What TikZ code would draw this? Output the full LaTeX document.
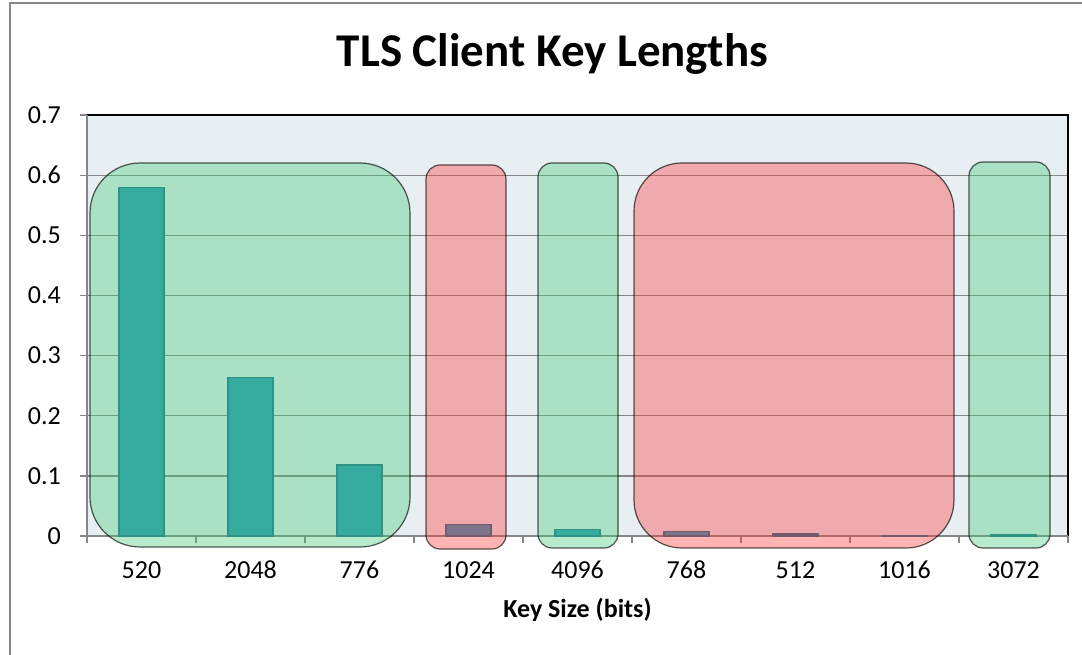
\documentclass[tikz,border=0pt]{standalone}
\usepackage{fontspec}
\setmainfont{Carlito}
\definecolor{framegray}{RGB}{134,134,134}
\definecolor{plotbg}{RGB}{232,239,243}
\definecolor{teal}{RGB}{46,154,186}
\definecolor{tealedge}{RGB}{30,115,140}
\definecolor{grpgreen}{RGB}{68,202,122}
\definecolor{grpred}{RGB}{255,55,55}
\tikzset{
  grid line/.style={draw=framegray, line width=1.3pt},
  axis line/.style={draw=framegray, line width=1.3pt},
  barbox/.style={fill=teal, draw=tealedge, line width=1.2pt},
  goodgroup/.style={fill=grpgreen, fill opacity=0.375, draw=black, draw opacity=0.65, line width=1.2pt},
  badgroup/.style={fill=grpred, fill opacity=0.375, draw=black, draw opacity=0.65, line width=1.2pt},
  ticklabel/.style={font=\fontsize{26}{31}\selectfont, inner sep=0pt},
  axistitle/.style={font=\fontsize{26}{31}\selectfont\bfseries, inner sep=0pt},
  charttitle/.style={font=\fontsize{47}{56}\selectfont\bfseries, inner sep=0pt}
}
\begin{document}
\begin{tikzpicture}[x=1pt,y=-1pt]
\useasboundingbox (0,0) rectangle (1082,655);
\fill[white] (0,0) rectangle (1082,655);
% outer chart border (cut off right and bottom)
\draw[draw=framegray, line width=1.6pt] (10,660) -- (10,3) -- (1090,3);
% plot area
\fill[plotbg] (87,115) rectangle (1068,536);
\foreach \k in {1,...,6} {
  \draw[grid line] (87,{536-\k*60.14}) -- (1068,{536-\k*60.14});
}
\draw[black, line width=1.6pt] (87,115) -- (1068,115) -- (1068,536);
% axes
\draw[axis line] (87,115) -- (87,536) -- (1068,536);
\foreach \k in {0,...,7} {
  \draw[axis line] (80,{536-\k*60.14}) -- (87,{536-\k*60.14});
}
\foreach \i in {0,...,9} {
  \draw[axis line] ({87+109*\i},536) -- ({87+109*\i},543);
}
% bars
\foreach \i/\v in {0/0.58,1/0.263,2/0.118,3/0.019,4/0.011,5/0.008,6/0.0035,7/0.0015,8/0.0018} {
  \draw[barbox] ({87+109*\i+54.5-22.5},536) rectangle ({87+109*\i+54.5+22.5},{536-\v*601.4});
}
% group boxes
\draw[goodgroup, rounded corners=50pt] (90,163) rectangle (410,547);
\draw[badgroup, rounded corners=14pt] (426,165) rectangle (506,549);
\draw[goodgroup, rounded corners=14pt] (538,163) rectangle (618,548);
\draw[badgroup, rounded corners=48pt] (634,163) rectangle (954,548);
\draw[goodgroup, rounded corners=14pt] (969,162) rectangle (1050,548);
% y tick labels
\foreach \k/\t in {0/0,1/0.1,2/0.2,3/0.3,4/0.4,5/0.5,6/0.6,7/0.7} {
  \node[ticklabel, anchor=east] (ylab\k) at (61,{536-\k*60.14}) {\t};
}
% x tick labels
\foreach \i/\t in {0/520,1/2048,2/776,3/1024,4/4096,5/768,6/512,7/1016,8/3072} {
  \node[ticklabel, anchor=base] (xlab\i) at ({87+109*\i+54.5},578) {\t};
}
\node[axistitle, anchor=base] (xtitle) at (577.5,617) {Key Size (bits)};
\node[charttitle, anchor=base] (title) at (552.5,67) {TLS Client Key Lengths};
\end{tikzpicture}
\end{document}
